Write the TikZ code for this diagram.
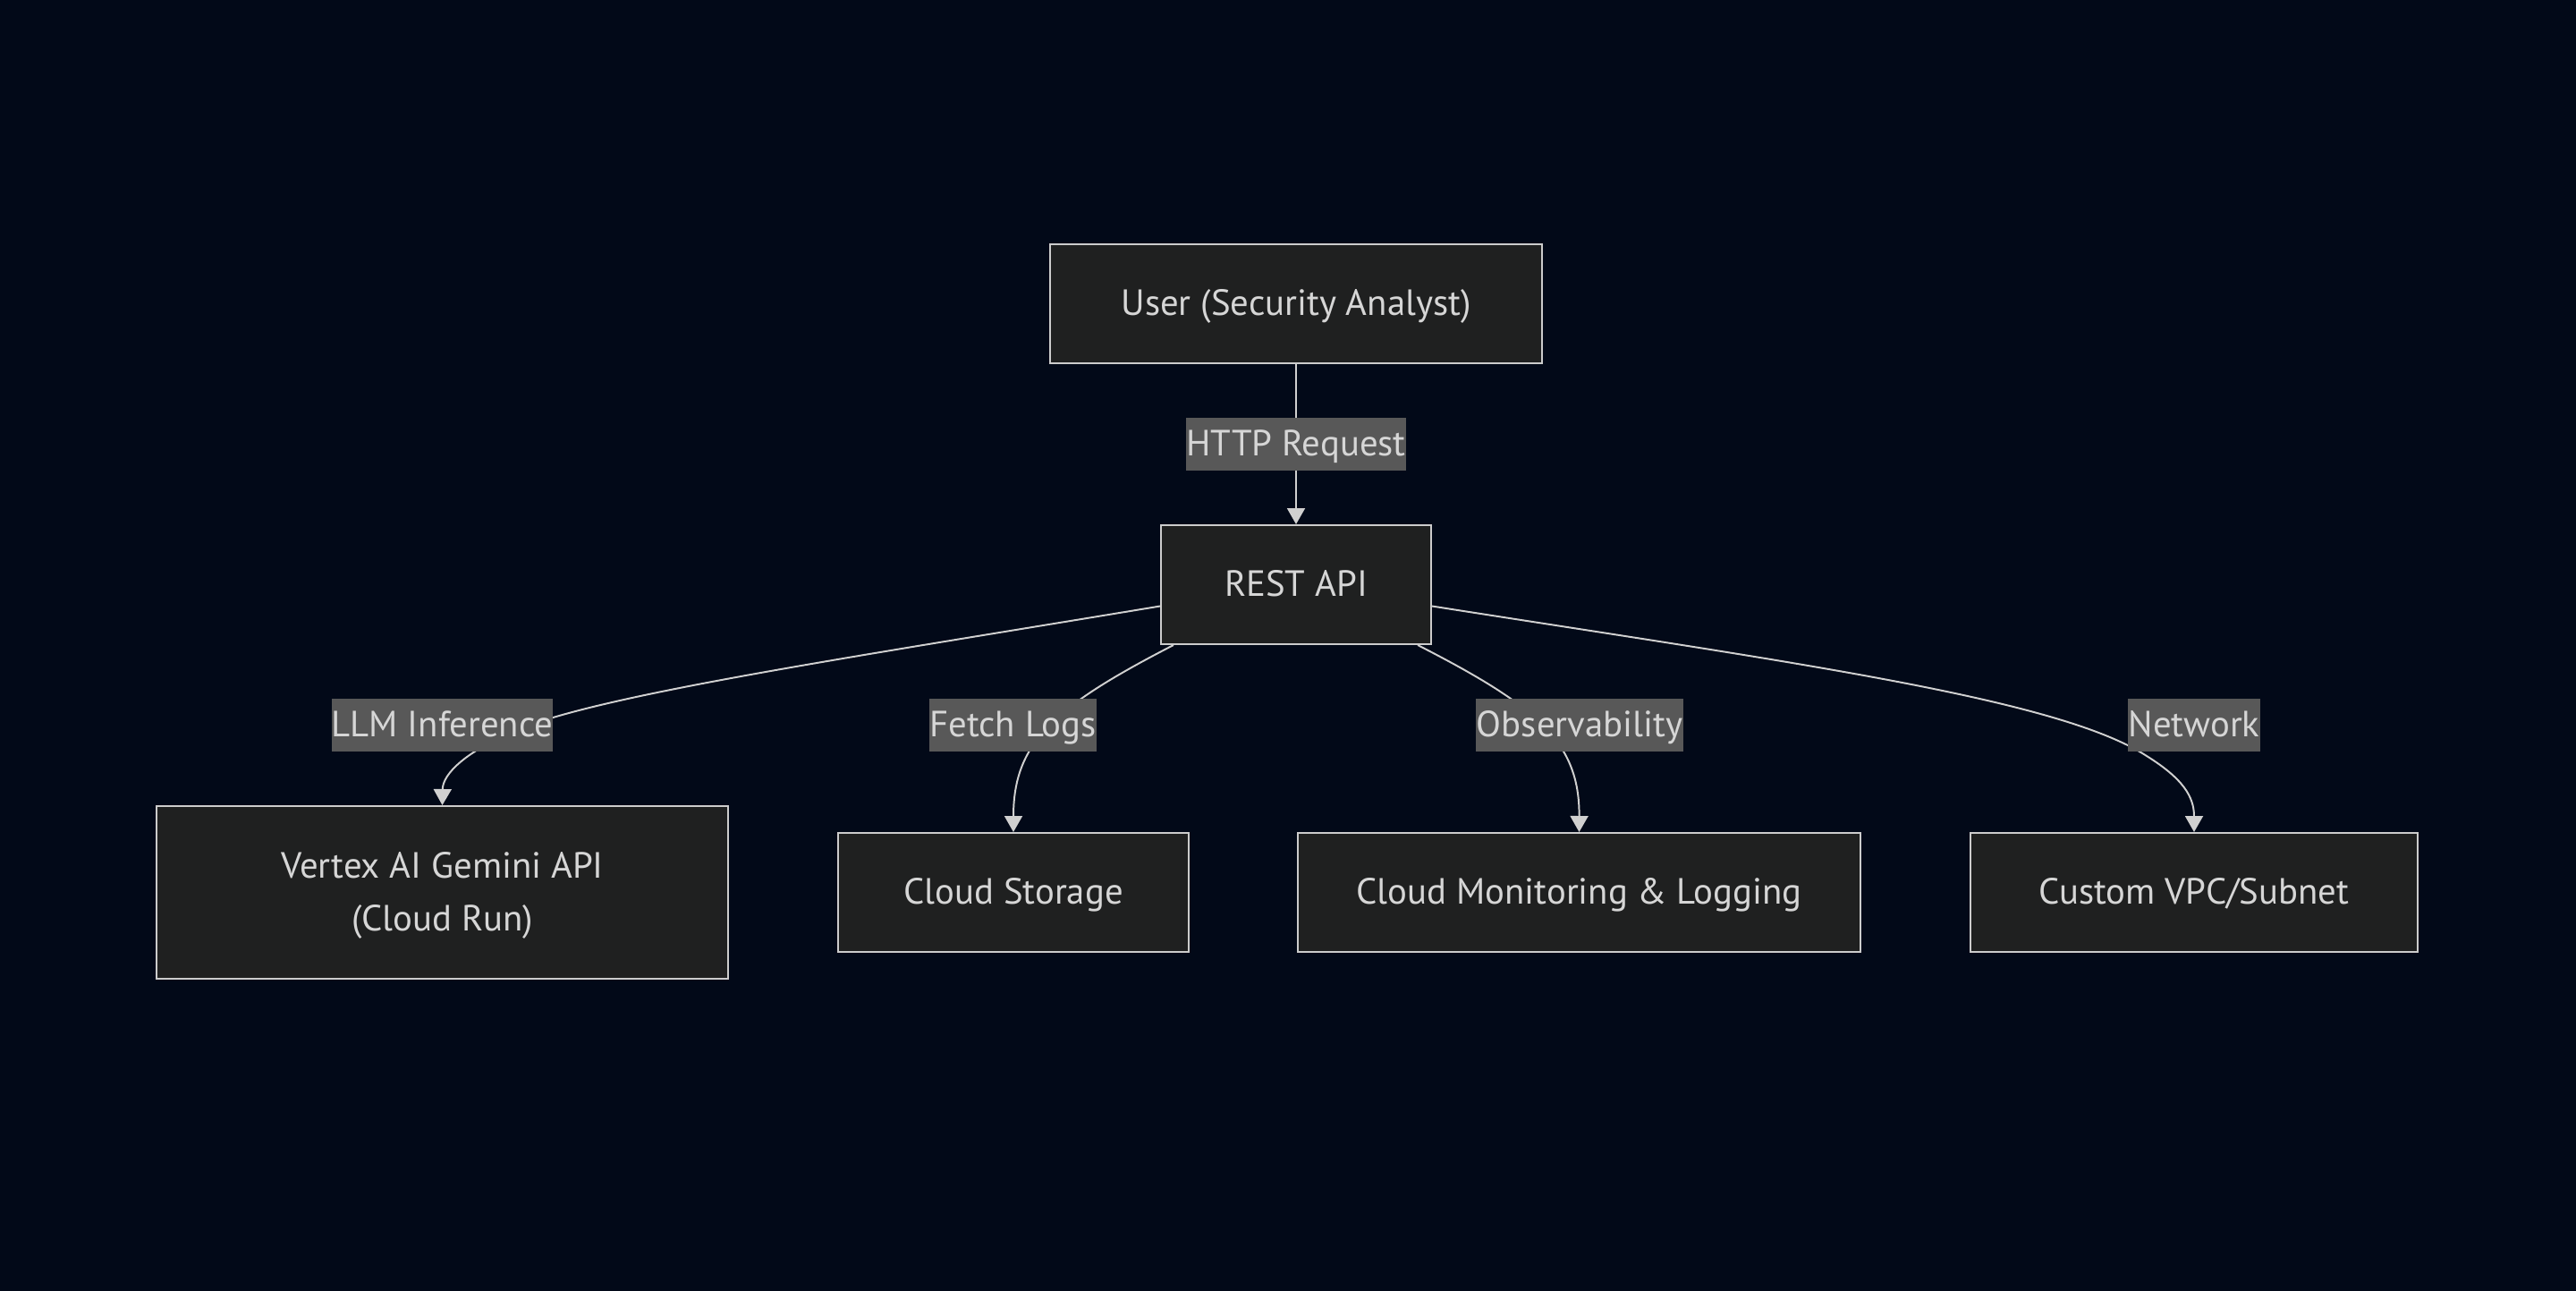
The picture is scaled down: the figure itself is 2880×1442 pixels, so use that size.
\documentclass[tikz,border=0pt]{standalone}
\usepackage{fontspec}
\setmainfont{PT Sans}
\usetikzlibrary{arrows.meta}
\definecolor{bgc}{RGB}{2,9,24}
\definecolor{boxc}{RGB}{31,32,32}
\definecolor{bordc}{RGB}{204,204,204}
\definecolor{lblc}{RGB}{88,88,88}
\definecolor{txtc}{RGB}{214,214,214}
\definecolor{linec}{RGB}{208,208,208}
\begin{document}
\begin{tikzpicture}[x=0.025cm,y=-0.025cm,
  box/.style={draw=bordc, fill=boxc, line width=1.4pt, text=txtc, align=center, inner sep=0pt,
    font=\fontsize{29}{42}\selectfont, text height=20pt, text depth=1.4pt, minimum height=3.325cm},
  lbl/.style={fill=lblc, text=txtc, inner sep=0pt, minimum height=1.475cm,
    text height=20pt, text depth=1.4pt, font=\fontsize{29}{42}\selectfont},
  conn/.style={draw=linec, line width=1.4pt, -{Triangle[length=0.45cm,width=0.5cm]}}]
\useasboundingbox (0,0) rectangle (2880,1442);
\fill[bgc] (-20,-20) rectangle (2900,1462);

\node[box, minimum width=13.75cm] (user) at (1449,339.5) {User (Security Analyst)};
\node[box, minimum width=7.55cm] (rest) at (1449,653.5) {REST API};
\node[box, minimum width=15.975cm, minimum height=4.825cm, text height=62pt] (vertex) at (494.5,997.5) {Vertex AI Gemini API\\(Cloud Run)};
\node[box, minimum width=9.8cm] (storage) at (1133,997.5) {Cloud Storage};
\node[box, minimum width=15.725cm] (monitor) at (1765.5,997.5) {Cloud Monitoring \& Logging};
\node[box, minimum width=12.5cm] (vpc) at (2453,997.5) {Custom VPC/Subnet};

\draw[conn] (user.south) -- (rest.north);
\draw[conn] ([yshift=-0.6cm]rest.west) .. controls (950,735) and (680,775) .. (580,815)
  .. controls (520,840) and (495,865) .. (vertex.north);
\draw[conn] ([xshift=0.375cm]rest.south west) .. controls (1178,790) and (1133,830) .. (storage.north);
\draw[conn] ([xshift=-0.4cm]rest.south east) .. controls (1720,790) and (1766,830) .. (monitor.north);
\draw[conn] ([yshift=-0.6cm]rest.east) .. controls (2000,740) and (2300,780) .. (2400,845)
  .. controls (2440,870) and (2453,890) .. (vpc.north);

\node[lbl, minimum width=6.1cm] (lhttp) at (1449,496.5) {HTTP Request};
\node[lbl, minimum width=6.175cm] (lllm) at (494.5,810.5) {LLM Inference};
\node[lbl, minimum width=4.675cm] (lfetch) at (1132.5,810.5) {Fetch Logs};
\node[lbl, minimum width=5.8cm] (lobs) at (1766,810.5) {Observability};
\node[lbl, minimum width=3.7cm] (lnet) at (2453,810.5) {Network};
\end{tikzpicture}
\end{document}
